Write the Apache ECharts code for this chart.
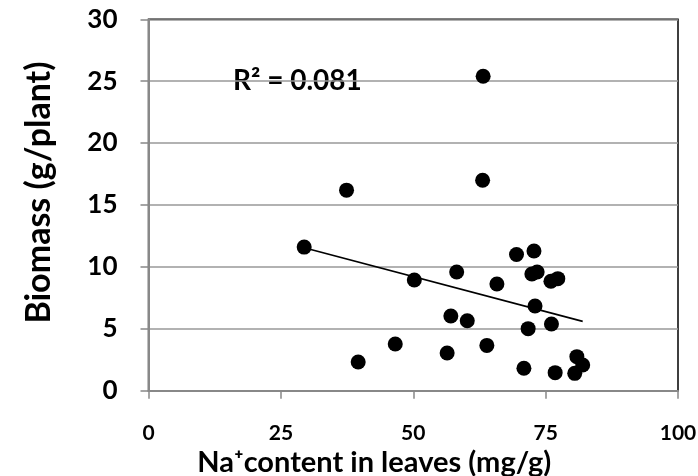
<!DOCTYPE html>
<html>
<head>
<meta charset="utf-8">
<script src="https://cdn.jsdelivr.net/npm/echarts@6/dist/echarts.min.js"></script>
<style>html,body{margin:0;padding:0;background:#fff}#c{width:698px;height:476px}</style>
</head>
<body>
<div id="c"></div>
<script>
var naContent = [37.4, 63.2, 63.1, 29.4, 50.2, 46.6, 39.6, 58.2, 65.8, 69.5, 72.8, 72.4, 73.4, 76.0, 77.3, 73.0, 57.1, 60.2, 71.7, 76.1, 56.4, 63.9, 70.9, 76.8, 80.9, 82.0, 80.5];
var biomass   = [16.2, 25.4, 17.0, 11.6, 8.94, 3.77, 2.32, 9.59, 8.62, 11.0, 11.28, 9.43, 9.59, 8.84, 9.05, 6.84, 6.03, 5.65, 5.01, 5.39, 3.05, 3.66, 1.81, 1.46, 2.75, 2.08, 1.4];
var trendX = [29.4, 82.0];
var trendY = [11.55, 5.6];
var xTicks = [0, 25, 50, 75, 100];
var yTicks = [0, 5, 10, 15, 20, 25, 30];
var r2Text = 'R² = 0.081';

var FONT = 'Lato, "Open Sans", "DejaVu Sans", sans-serif';
var pts = naContent.map(function (x, i) { return [x, biomass[i]]; });
var trend = trendX.map(function (x, i) { return [x, trendY[i]]; });

var chart = echarts.init(document.getElementById('c'), null, { renderer: 'canvas' });
chart.setOption({
  animation: false,
  backgroundColor: '#fff',
  grid: { left: 148.5, right: 20, top: 19.3, bottom: 85.3, containLabel: false, outerBoundsMode: 'none',
          show: true, borderColor: '#000', borderWidth: 1.5, backgroundColor: 'transparent' },
  xAxis: {
    type: 'value', min: xTicks[0], max: xTicks[xTicks.length - 1], interval: 25,
    axisLine: { show: true, onZero: false, lineStyle: { color: '#888', width: 2 } },
    axisTick: { show: true, inside: false, length: 8, lineStyle: { color: '#888', width: 1.5 } },
    splitLine: { show: false },
    axisLabel: { margin: 32, color: '#000', fontFamily: FONT, fontWeight: 'bold', fontSize: 21 },
    name: 'Na⁺content in leaves (mg/g)', nameLocation: 'middle', nameGap: 49,
    nameTextStyle: { color: '#000', fontFamily: FONT, fontWeight: 'bold', fontSize: 29, padding: [0, 78, 0, 0] }
  },
  yAxis: {
    type: 'value', min: yTicks[0], max: yTicks[yTicks.length - 1], interval: 5,
    axisLine: { show: true, onZero: false, lineStyle: { color: '#888', width: 2 } },
    axisTick: { show: true, inside: false, length: 8, lineStyle: { color: '#888', width: 1.5 } },
    splitLine: { show: true, lineStyle: { color: '#999', width: 1.5 } },
    axisLabel: { margin: 31, color: '#000', fontFamily: FONT, fontWeight: 'bold', fontSize: 26 },
    name: 'Biomass (g/plant)', nameLocation: 'middle', nameGap: 92, nameRotate: 90,
    nameTextStyle: { color: '#000', fontFamily: FONT, fontWeight: 'bold', fontSize: 34, padding: [0, 0, 0, 25] }
  },
  graphic: [{
    type: 'text', left: 233, top: 67,
    style: { text: r2Text, fill: '#000', font: 'bold 28px ' + FONT }
  }],
  series: [
    {
      type: 'line', data: trend, symbol: 'none', z: 3,
      lineStyle: { color: '#000', width: 1.6 }
    },
    {
      type: 'scatter', data: pts, symbol: 'circle', symbolSize: 15, z: 4,
      itemStyle: { color: '#000', opacity: 1 }
    }
  ]
});
</script>
</body>
</html>
